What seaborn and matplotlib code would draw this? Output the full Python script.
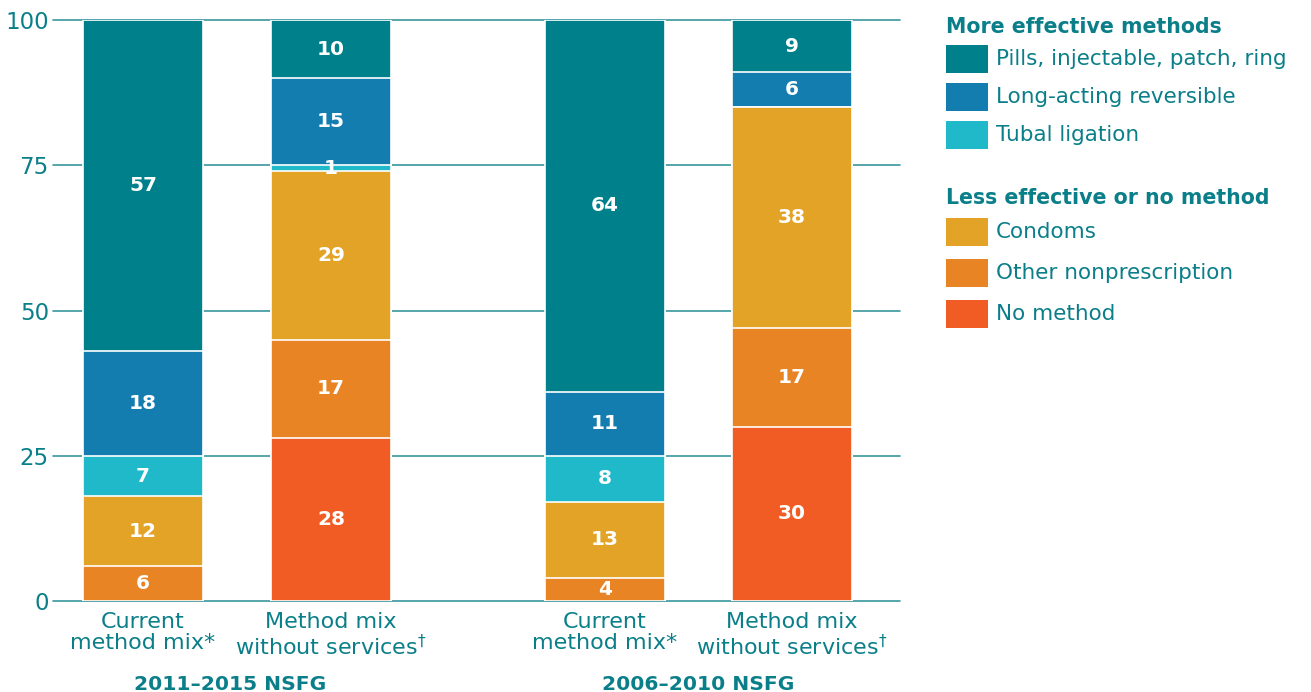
import matplotlib
matplotlib.use("Agg")
import numpy as np
import pandas as pd
import matplotlib.pyplot as plt
import matplotlib.transforms as mtransforms
from matplotlib.patches import Rectangle
import seaborn as sns

# ---- data -------------------------------------------------------------
surveys = ["2011–2015 NSFG", "2006–2010 NSFG"]
bar_names = ["Current\nmethod mix*", "Method mix\nwithout services$^{\\dagger}$",
             "Current\nmethod mix*", "Method mix\nwithout services$^{\\dagger}$"]
bar_pos = [0.0, 1.0, 2.457, 3.452]

# stack order, bottom to top
no_method = [0, 28, 0, 30]
other_nonrx = [6, 17, 4, 17]
condoms = [12, 29, 13, 38]
tubal = [7, 1, 8, 0]
larc = [18, 15, 11, 6]
pills = [57, 10, 64, 9]

layer_names = ["No method", "Other nonprescription", "Condoms",
               "Tubal ligation", "Long-acting reversible",
               "Pills, injectable, patch, ring"]
layer_values = [no_method, other_nonrx, condoms, tubal, larc, pills]
layer_colors = ["#F15C24", "#E88424", "#E3A327", "#1FB9C9", "#137DB0", "#00808A"]

more_effective = ["Pills, injectable, patch, ring", "Long-acting reversible", "Tubal ligation"]
less_effective = ["Condoms", "Other nonprescription", "No method"]

TEAL = "#0B7F89"
GRID = "#3A969E"

# ---- style -----------------------------------------------------------
sns.set_style("white")
plt.rcParams["font.family"] = ["DejaVu Sans"]
plt.rcParams["mathtext.fontset"] = "dejavusans"

W, H = 1311, 692
fig = plt.figure(figsize=(W / 100, H / 100), dpi=100)
ax = fig.add_axes([53 / W, 1 - 601 / H, (900 - 53) / W, (601 - 20) / H])

# cumulative tops, drawn from the tallest layer down so each overlays the next
vals = np.array(layer_values, dtype=float)
tops = np.cumsum(vals, axis=0)
rows = []
for k in range(len(layer_names) - 1, -1, -1):
    for i, p in enumerate(bar_pos):
        if tops[k, i] > 0:
            rows.append({"pos": p, "layer": layer_names[k], "top": tops[k, i]})
df = pd.DataFrame(rows)
hue_order = layer_names[::-1]
palette = dict(zip(layer_names, layer_colors))

sns.barplot(data=df, x="pos", y="top", hue="layer", hue_order=hue_order,
            palette=palette, dodge=False, native_scale=True, width=0.64,
            saturation=1, errorbar=None, edgecolor="white", linewidth=1.2,
            legend=False, ax=ax, zorder=2)

# segment value labels
for k in range(len(layer_names)):
    for i, p in enumerate(bar_pos):
        v = vals[k, i]
        if v > 0:
            ax.text(p, tops[k, i] - v / 2, f"{int(v)}", ha="center", va="center",
                    color="white", fontsize=14.5, fontweight="bold", zorder=5)

# axes
ax.set_xlim((53 - 143) / 188, (900 - 143) / 188)
ax.set_ylim(0, 100)
ax.set_yticks([0, 25, 50, 75, 100])
ax.set_yticklabels(["0", "25", "50", "75", "100"])
ax.set_xticks(bar_pos)
ax.set_xticklabels(bar_names, linespacing=1.08)
ax.set_xlabel("")
ax.set_ylabel("")
for s in ax.spines.values():
    s.set_visible(False)
ax.tick_params(axis="both", length=0, labelcolor=TEAL, labelsize=16)
ax.tick_params(axis="y", pad=3, labelsize=16.5)
ax.tick_params(axis="x", pad=8)
ax.grid(axis="y", color=GRID, linewidth=1.2)
ax.grid(axis="x", visible=False)
ax.set_axisbelow(True)
for gl in ax.get_ygridlines():
    gl.set_clip_on(False)

# survey group labels
trans = mtransforms.blended_transform_factory(ax.transData, fig.transFigure)
for j, name in enumerate(surveys):
    xm = (bar_pos[2 * j] + bar_pos[2 * j + 1]) / 2
    ax.text(xm - (0.035 if j == 0 else 0), 1 - 684 / H, name, transform=trans,
            ha="center", va="center", color=TEAL, fontsize=14.6, fontweight="bold")

# legend
def fx(px):
    return px / W

def fy(py):
    return 1 - py / H

def legend_block(title, names, title_y, row_ys):
    fig.text(fx(946), fy(title_y), title, ha="left", va="center",
             color=TEAL, fontsize=14.8, fontweight="bold")
    for name, ry in zip(names, row_ys):
        col = palette[name]
        fig.patches.append(Rectangle((fx(946), fy(ry + 14)), 42 / W, 28 / H,
                                     transform=fig.transFigure, facecolor=col,
                                     edgecolor="none"))
        fig.text(fx(996), fy(ry), name, ha="left", va="center",
                 color=TEAL, fontsize=15.5)

legend_block("More effective methods", more_effective, 27, [59, 97, 135])
legend_block("Less effective or no method", less_effective, 198, [232, 273, 314])

fig.savefig("out.png", dpi=100)
